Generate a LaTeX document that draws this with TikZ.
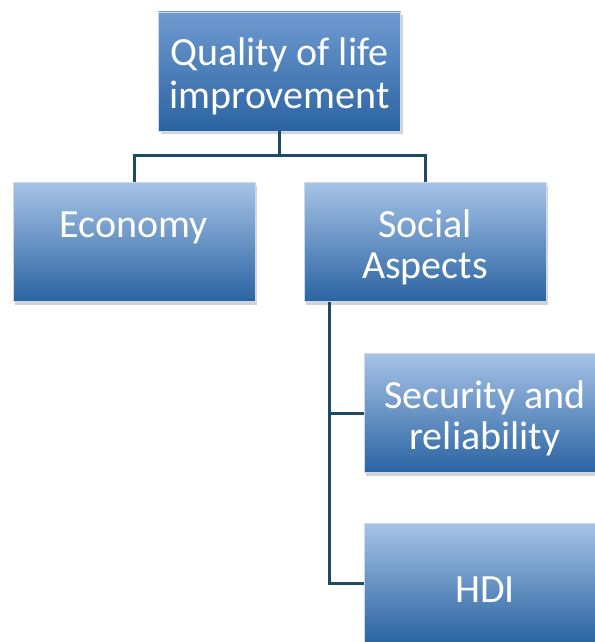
\documentclass[tikz,border=0pt]{standalone}
\usepackage{fontspec}
\setmainfont{Carlito}
\usetikzlibrary{shadows}
\definecolor{boxtop}{HTML}{A6C3E6}
\definecolor{boxbot}{HTML}{2A63A2}
\definecolor{headtop}{HTML}{6F9AD0}
\definecolor{linkcol}{HTML}{1E4A66}
\newcommand{\topstrut}{\rule{0pt}{38pt}}

\begin{document}
\begin{tikzpicture}[
    x=1pt, y=-1pt,
    every node/.style={font=\fontsize{40}{41}\selectfont},
    topic/.style={rectangle, top color=boxtop, bottom color=boxbot,
                  draw=boxtop!60!white, line width=0.8pt, text=white,
                  align=center, inner sep=0pt, minimum width=242pt,
                  minimum height=119pt,
                  drop shadow={shadow xshift=2pt, shadow yshift=-3pt, opacity=0.35}},
    head/.style={topic, top color=headtop, font=\fontsize{40}{43}\selectfont},
    link/.style={draw=linkcol, line width=3pt},
]
\useasboundingbox (0,0) rectangle (594,642);

% Boxes
\node[head]  (quality)  at (279.5,71.5) {\topstrut Quality of life\\improvement};
\node[topic] (economy)  at (134,242)   {\topstrut Economy\\\phantom{Ey}};
\node[topic] (social)   at (425,242)   {\topstrut Social\\Aspects};
\node[topic] (security) at (485,413)   {\topstrut Security and\\reliability};
\node[topic] (hdi)      at (485,583)   {\topstrut HDI};

% Connector points
\coordinate (bus)   at (279.5,155);
\coordinate (trunk) at (329,302);

% Top level connectors
\draw[link] (quality.south) -- (bus);
\draw[link] (economy.north) |- (bus) -| (social.north);

% Social aspects connectors
\draw[link] (trunk) |- (security.west);
\draw[link] (trunk) |- (hdi.west);
\end{tikzpicture}
\end{document}
